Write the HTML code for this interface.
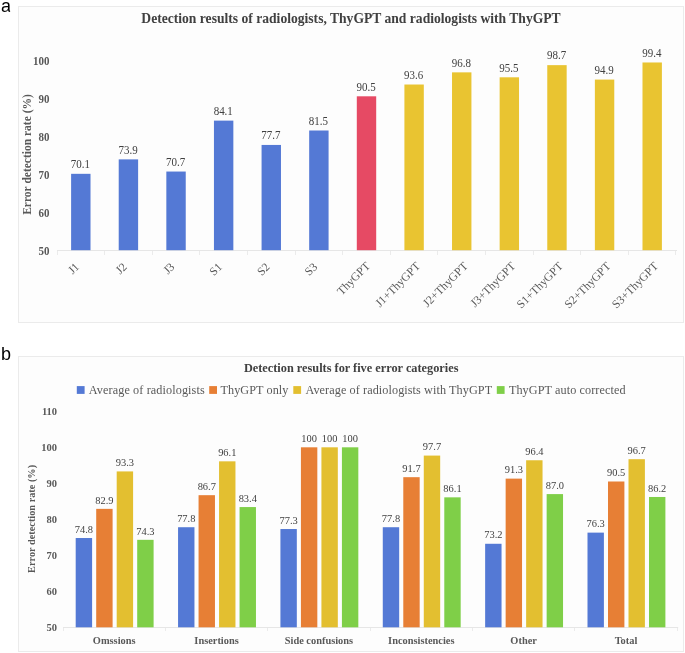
<!DOCTYPE html>
<html><head><meta charset="utf-8"><title>Detection results</title>
<style>
html,body{margin:0;padding:0;background:#fff;}
body{width:685px;height:653px;overflow:hidden;font-family:"Liberation Serif",serif;}
svg{display:block;will-change:transform;}
</style></head>
<body>
<svg width="685" height="653" viewBox="0 0 685 653">
<rect x="18.5" y="6.5" width="665" height="316" fill="#fdfdfd" stroke="#ebebeb" stroke-width="1"/>
<rect x="18.5" y="356.5" width="665" height="295" fill="#fdfdfd" stroke="#ebebeb" stroke-width="1"/>
<text x="1" y="11.9" font-family="Liberation Sans, sans-serif" font-size="18" fill="#000">a</text>
<rect x="10.1" y="8.5" width="3" height="4.5" fill="#fff"/>
<text x="1" y="360.1" font-family="Liberation Sans, sans-serif" font-size="18" fill="#000">b</text>
<text x="351" y="23.2" text-anchor="middle" font-family="Liberation Serif, serif" font-weight="bold" font-size="13.6" fill="#404040">Detection results of radiologists, ThyGPT and radiologists with ThyGPT</text>
<text transform="translate(49.5 254.6) scale(1 1.05)" text-anchor="end" font-family="Liberation Serif, serif" font-weight="bold" font-size="11" fill="#595959">50</text>
<text transform="translate(49.5 216.6) scale(1 1.05)" text-anchor="end" font-family="Liberation Serif, serif" font-weight="bold" font-size="11" fill="#595959">60</text>
<text transform="translate(49.5 178.6) scale(1 1.05)" text-anchor="end" font-family="Liberation Serif, serif" font-weight="bold" font-size="11" fill="#595959">70</text>
<text transform="translate(49.5 140.6) scale(1 1.05)" text-anchor="end" font-family="Liberation Serif, serif" font-weight="bold" font-size="11" fill="#595959">80</text>
<text transform="translate(49.5 102.6) scale(1 1.05)" text-anchor="end" font-family="Liberation Serif, serif" font-weight="bold" font-size="11" fill="#595959">90</text>
<text transform="translate(49.5 64.6) scale(1 1.05)" text-anchor="end" font-family="Liberation Serif, serif" font-weight="bold" font-size="11" fill="#595959">100</text>
<text transform="translate(31.0 154.5) rotate(-90)" text-anchor="middle" font-family="Liberation Serif, serif" font-weight="bold" font-size="11.5" fill="#595959">Error detection rate (%)</text>
<line x1="57" y1="250.5" x2="677" y2="250.5" stroke="#e6e6e6" stroke-width="1"/>
<line x1="57.5" y1="251" x2="57.5" y2="255" stroke="#ebebeb" stroke-width="1"/>
<line x1="104.5" y1="251" x2="104.5" y2="255" stroke="#ebebeb" stroke-width="1"/>
<line x1="152.5" y1="251" x2="152.5" y2="255" stroke="#ebebeb" stroke-width="1"/>
<line x1="199.5" y1="251" x2="199.5" y2="255" stroke="#ebebeb" stroke-width="1"/>
<line x1="247.5" y1="251" x2="247.5" y2="255" stroke="#ebebeb" stroke-width="1"/>
<line x1="295.5" y1="251" x2="295.5" y2="255" stroke="#ebebeb" stroke-width="1"/>
<line x1="342.5" y1="251" x2="342.5" y2="255" stroke="#ebebeb" stroke-width="1"/>
<line x1="390.5" y1="251" x2="390.5" y2="255" stroke="#ebebeb" stroke-width="1"/>
<line x1="437.5" y1="251" x2="437.5" y2="255" stroke="#ebebeb" stroke-width="1"/>
<line x1="485.5" y1="251" x2="485.5" y2="255" stroke="#ebebeb" stroke-width="1"/>
<line x1="533.5" y1="251" x2="533.5" y2="255" stroke="#ebebeb" stroke-width="1"/>
<line x1="580.5" y1="251" x2="580.5" y2="255" stroke="#ebebeb" stroke-width="1"/>
<line x1="628.5" y1="251" x2="628.5" y2="255" stroke="#ebebeb" stroke-width="1"/>
<line x1="675.5" y1="251" x2="675.5" y2="255" stroke="#ebebeb" stroke-width="1"/>
<rect x="71.11" y="173.82" width="19.4" height="76.38" fill="#5479d5"/>
<text transform="translate(80.41 168.12) scale(1 1.12)" text-anchor="middle" font-family="Liberation Serif, serif" font-size="11" fill="#404040">70.1</text>
<text transform="translate(80.01 267.5) rotate(-45)" text-anchor="end" font-family="Liberation Serif, serif" font-size="11.7" fill="#595959">J1</text>
<rect x="118.72" y="159.38" width="19.4" height="90.82" fill="#5479d5"/>
<text transform="translate(128.02 153.68) scale(1 1.12)" text-anchor="middle" font-family="Liberation Serif, serif" font-size="11" fill="#404040">73.9</text>
<text transform="translate(127.62 267.5) rotate(-45)" text-anchor="end" font-family="Liberation Serif, serif" font-size="11.7" fill="#595959">J2</text>
<rect x="166.34" y="171.54" width="19.4" height="78.66" fill="#5479d5"/>
<text transform="translate(175.64 165.84) scale(1 1.12)" text-anchor="middle" font-family="Liberation Serif, serif" font-size="11" fill="#404040">70.7</text>
<text transform="translate(175.24 267.5) rotate(-45)" text-anchor="end" font-family="Liberation Serif, serif" font-size="11.7" fill="#595959">J3</text>
<rect x="213.95" y="120.62" width="19.4" height="129.58" fill="#5479d5"/>
<text transform="translate(223.25 114.92) scale(1 1.12)" text-anchor="middle" font-family="Liberation Serif, serif" font-size="11" fill="#404040">84.1</text>
<text transform="translate(222.85 267.5) rotate(-45)" text-anchor="end" font-family="Liberation Serif, serif" font-size="11.7" fill="#595959">S1</text>
<rect x="261.57" y="144.94" width="19.4" height="105.26" fill="#5479d5"/>
<text transform="translate(270.87 139.24) scale(1 1.12)" text-anchor="middle" font-family="Liberation Serif, serif" font-size="11" fill="#404040">77.7</text>
<text transform="translate(270.47 267.5) rotate(-45)" text-anchor="end" font-family="Liberation Serif, serif" font-size="11.7" fill="#595959">S2</text>
<rect x="309.18" y="130.5" width="19.4" height="119.7" fill="#5479d5"/>
<text transform="translate(318.48 124.8) scale(1 1.12)" text-anchor="middle" font-family="Liberation Serif, serif" font-size="11" fill="#404040">81.5</text>
<text transform="translate(318.08 267.5) rotate(-45)" text-anchor="end" font-family="Liberation Serif, serif" font-size="11.7" fill="#595959">S3</text>
<rect x="356.8" y="96.3" width="19.4" height="153.9" fill="#e64a64"/>
<text transform="translate(366.1 90.6) scale(1 1.12)" text-anchor="middle" font-family="Liberation Serif, serif" font-size="11" fill="#404040">90.5</text>
<text transform="translate(370.7 266.7) rotate(-45)" text-anchor="end" font-family="Liberation Serif, serif" font-size="11.7" fill="#595959">ThyGPT</text>
<rect x="404.41" y="84.52" width="19.4" height="165.68" fill="#e9c431"/>
<text transform="translate(413.71 78.82) scale(1 1.12)" text-anchor="middle" font-family="Liberation Serif, serif" font-size="11" fill="#404040">93.6</text>
<text transform="translate(420.81 266.8) rotate(-45)" text-anchor="end" font-family="Liberation Serif, serif" font-size="11.7" fill="#595959">J1+ThyGPT</text>
<rect x="452.03" y="72.36" width="19.4" height="177.84" fill="#e9c431"/>
<text transform="translate(461.33 66.66) scale(1 1.12)" text-anchor="middle" font-family="Liberation Serif, serif" font-size="11" fill="#404040">96.8</text>
<text transform="translate(468.43 266.8) rotate(-45)" text-anchor="end" font-family="Liberation Serif, serif" font-size="11.7" fill="#595959">J2+ThyGPT</text>
<rect x="499.64" y="77.3" width="19.4" height="172.9" fill="#e9c431"/>
<text transform="translate(508.94 71.6) scale(1 1.12)" text-anchor="middle" font-family="Liberation Serif, serif" font-size="11" fill="#404040">95.5</text>
<text transform="translate(516.04 266.8) rotate(-45)" text-anchor="end" font-family="Liberation Serif, serif" font-size="11.7" fill="#595959">J3+ThyGPT</text>
<rect x="547.26" y="65.14" width="19.4" height="185.06" fill="#e9c431"/>
<text transform="translate(556.56 59.44) scale(1 1.12)" text-anchor="middle" font-family="Liberation Serif, serif" font-size="11" fill="#404040">98.7</text>
<text transform="translate(563.66 266.8) rotate(-45)" text-anchor="end" font-family="Liberation Serif, serif" font-size="11.7" fill="#595959">S1+ThyGPT</text>
<rect x="594.87" y="79.58" width="19.4" height="170.62" fill="#e9c431"/>
<text transform="translate(604.17 73.88) scale(1 1.12)" text-anchor="middle" font-family="Liberation Serif, serif" font-size="11" fill="#404040">94.9</text>
<text transform="translate(611.27 266.8) rotate(-45)" text-anchor="end" font-family="Liberation Serif, serif" font-size="11.7" fill="#595959">S2+ThyGPT</text>
<rect x="642.49" y="62.48" width="19.4" height="187.72" fill="#e9c431"/>
<text transform="translate(651.79 56.78) scale(1 1.12)" text-anchor="middle" font-family="Liberation Serif, serif" font-size="11" fill="#404040">99.4</text>
<text transform="translate(658.89 266.8) rotate(-45)" text-anchor="end" font-family="Liberation Serif, serif" font-size="11.7" fill="#595959">S3+ThyGPT</text>
<text x="351.2" y="371.7" text-anchor="middle" font-family="Liberation Serif, serif" font-weight="bold" font-size="12.3" fill="#404040">Detection results for five error categories</text>
<rect x="76.8" y="386.1" width="7.8" height="7.8" fill="#5479d5"/>
<text class="leg" x="88.8" y="394.2" textLength="115.9" lengthAdjust="spacing" font-family="Liberation Serif, serif" font-size="12.2" fill="#595959">Average of radiologists</text>
<rect x="209.2" y="386.1" width="7.8" height="7.8" fill="#e77f35"/>
<text class="leg" x="220.5" y="394.2" textLength="67.9" lengthAdjust="spacing" font-family="Liberation Serif, serif" font-size="12.2" fill="#595959">ThyGPT only</text>
<rect x="293.3" y="386.1" width="7.8" height="7.8" fill="#e3bf30"/>
<text class="leg" x="305.4" y="394.2" textLength="186.7" lengthAdjust="spacing" font-family="Liberation Serif, serif" font-size="12.2" fill="#595959">Average of radiologists with ThyGPT</text>
<rect x="496.8" y="386.1" width="7.8" height="7.8" fill="#7fcf48"/>
<text class="leg" x="508.9" y="394.2" textLength="116.7" lengthAdjust="spacing" font-family="Liberation Serif, serif" font-size="12.2" fill="#595959">ThyGPT auto corrected</text>
<text x="57.1" y="631.3" text-anchor="end" font-family="Liberation Serif, serif" font-weight="bold" font-size="10.5" fill="#595959">50</text>
<text x="57.1" y="595.3" text-anchor="end" font-family="Liberation Serif, serif" font-weight="bold" font-size="10.5" fill="#595959">60</text>
<text x="57.1" y="559.3" text-anchor="end" font-family="Liberation Serif, serif" font-weight="bold" font-size="10.5" fill="#595959">70</text>
<text x="57.1" y="523.3" text-anchor="end" font-family="Liberation Serif, serif" font-weight="bold" font-size="10.5" fill="#595959">80</text>
<text x="57.1" y="487.3" text-anchor="end" font-family="Liberation Serif, serif" font-weight="bold" font-size="10.5" fill="#595959">90</text>
<text x="57.1" y="451.3" text-anchor="end" font-family="Liberation Serif, serif" font-weight="bold" font-size="10.5" fill="#595959">100</text>
<text x="57.1" y="415.3" text-anchor="end" font-family="Liberation Serif, serif" font-weight="bold" font-size="10.5" fill="#595959">110</text>
<text transform="translate(34.7 518.9) rotate(-90)" text-anchor="middle" font-family="Liberation Serif, serif" font-weight="bold" font-size="10.3" fill="#595959">Error detection rate (%)</text>
<line x1="63" y1="627.5" x2="678.16" y2="627.5" stroke="#e6e6e6" stroke-width="1"/>
<line x1="63.5" y1="628" x2="63.5" y2="631" stroke="#ebebeb" stroke-width="1"/>
<line x1="165.5" y1="628" x2="165.5" y2="631" stroke="#ebebeb" stroke-width="1"/>
<line x1="267.5" y1="628" x2="267.5" y2="631" stroke="#ebebeb" stroke-width="1"/>
<line x1="370.5" y1="628" x2="370.5" y2="631" stroke="#ebebeb" stroke-width="1"/>
<line x1="472.5" y1="628" x2="472.5" y2="631" stroke="#ebebeb" stroke-width="1"/>
<line x1="574.5" y1="628" x2="574.5" y2="631" stroke="#ebebeb" stroke-width="1"/>
<line x1="677.5" y1="628" x2="677.5" y2="631" stroke="#ebebeb" stroke-width="1"/>
<rect x="75.7" y="538.02" width="16.4" height="89.28" fill="#5479d5"/>
<text transform="translate(83.9 532.72) scale(0.95 1.03)" text-anchor="middle" font-family="Liberation Serif, serif" font-size="11" fill="#404040">74.8</text>
<rect x="96.2" y="508.86" width="16.4" height="118.44" fill="#e77f35"/>
<text transform="translate(104.4 503.56) scale(0.95 1.03)" text-anchor="middle" font-family="Liberation Serif, serif" font-size="11" fill="#404040">82.9</text>
<rect x="116.7" y="471.42" width="16.4" height="155.88" fill="#e3bf30"/>
<text transform="translate(124.9 466.12) scale(0.95 1.03)" text-anchor="middle" font-family="Liberation Serif, serif" font-size="11" fill="#404040">93.3</text>
<rect x="137.2" y="539.82" width="16.4" height="87.48" fill="#7fcf48"/>
<text transform="translate(145.4 534.52) scale(0.95 1.03)" text-anchor="middle" font-family="Liberation Serif, serif" font-size="11" fill="#404040">74.3</text>
<text transform="translate(114.18 643.9) scale(0.945 1)" text-anchor="middle" font-family="Liberation Serif, serif" font-weight="bold" font-size="11" fill="#595959">Omssions</text>
<rect x="178.06" y="527.22" width="16.4" height="100.08" fill="#5479d5"/>
<text transform="translate(186.26 521.92) scale(0.95 1.03)" text-anchor="middle" font-family="Liberation Serif, serif" font-size="11" fill="#404040">77.8</text>
<rect x="198.56" y="495.18" width="16.4" height="132.12" fill="#e77f35"/>
<text transform="translate(206.76 489.88) scale(0.95 1.03)" text-anchor="middle" font-family="Liberation Serif, serif" font-size="11" fill="#404040">86.7</text>
<rect x="219.06" y="461.34" width="16.4" height="165.96" fill="#e3bf30"/>
<text transform="translate(227.26 456.04) scale(0.95 1.03)" text-anchor="middle" font-family="Liberation Serif, serif" font-size="11" fill="#404040">96.1</text>
<rect x="239.56" y="507.06" width="16.4" height="120.24" fill="#7fcf48"/>
<text transform="translate(247.76 501.76) scale(0.95 1.03)" text-anchor="middle" font-family="Liberation Serif, serif" font-size="11" fill="#404040">83.4</text>
<text transform="translate(216.54 643.9) scale(0.945 1)" text-anchor="middle" font-family="Liberation Serif, serif" font-weight="bold" font-size="11" fill="#595959">Insertions</text>
<rect x="280.42" y="529.02" width="16.4" height="98.28" fill="#5479d5"/>
<text transform="translate(288.62 523.72) scale(0.95 1.03)" text-anchor="middle" font-family="Liberation Serif, serif" font-size="11" fill="#404040">77.3</text>
<rect x="300.92" y="447.3" width="16.4" height="180" fill="#e77f35"/>
<text transform="translate(309.12 442) scale(0.95 1.03)" text-anchor="middle" font-family="Liberation Serif, serif" font-size="11" fill="#404040">100</text>
<rect x="321.42" y="447.3" width="16.4" height="180" fill="#e3bf30"/>
<text transform="translate(329.62 442) scale(0.95 1.03)" text-anchor="middle" font-family="Liberation Serif, serif" font-size="11" fill="#404040">100</text>
<rect x="341.92" y="447.3" width="16.4" height="180" fill="#7fcf48"/>
<text transform="translate(350.12 442) scale(0.95 1.03)" text-anchor="middle" font-family="Liberation Serif, serif" font-size="11" fill="#404040">100</text>
<text transform="translate(318.9 643.9) scale(0.945 1)" text-anchor="middle" font-family="Liberation Serif, serif" font-weight="bold" font-size="11" fill="#595959">Side confusions</text>
<rect x="382.78" y="527.22" width="16.4" height="100.08" fill="#5479d5"/>
<text transform="translate(390.98 521.92) scale(0.95 1.03)" text-anchor="middle" font-family="Liberation Serif, serif" font-size="11" fill="#404040">77.8</text>
<rect x="403.28" y="477.18" width="16.4" height="150.12" fill="#e77f35"/>
<text transform="translate(411.48 471.88) scale(0.95 1.03)" text-anchor="middle" font-family="Liberation Serif, serif" font-size="11" fill="#404040">91.7</text>
<rect x="423.78" y="455.58" width="16.4" height="171.72" fill="#e3bf30"/>
<text transform="translate(431.98 450.28) scale(0.95 1.03)" text-anchor="middle" font-family="Liberation Serif, serif" font-size="11" fill="#404040">97.7</text>
<rect x="444.28" y="497.34" width="16.4" height="129.96" fill="#7fcf48"/>
<text transform="translate(452.48 492.04) scale(0.95 1.03)" text-anchor="middle" font-family="Liberation Serif, serif" font-size="11" fill="#404040">86.1</text>
<text transform="translate(421.26 643.9) scale(0.945 1)" text-anchor="middle" font-family="Liberation Serif, serif" font-weight="bold" font-size="11" fill="#595959">Inconsistencies</text>
<rect x="485.14" y="543.78" width="16.4" height="83.52" fill="#5479d5"/>
<text transform="translate(493.34 538.48) scale(0.95 1.03)" text-anchor="middle" font-family="Liberation Serif, serif" font-size="11" fill="#404040">73.2</text>
<rect x="505.64" y="478.62" width="16.4" height="148.68" fill="#e77f35"/>
<text transform="translate(513.84 473.32) scale(0.95 1.03)" text-anchor="middle" font-family="Liberation Serif, serif" font-size="11" fill="#404040">91.3</text>
<rect x="526.14" y="460.26" width="16.4" height="167.04" fill="#e3bf30"/>
<text transform="translate(534.34 454.96) scale(0.95 1.03)" text-anchor="middle" font-family="Liberation Serif, serif" font-size="11" fill="#404040">96.4</text>
<rect x="546.64" y="494.1" width="16.4" height="133.2" fill="#7fcf48"/>
<text transform="translate(554.84 488.8) scale(0.95 1.03)" text-anchor="middle" font-family="Liberation Serif, serif" font-size="11" fill="#404040">87.0</text>
<text transform="translate(523.62 643.9) scale(0.945 1)" text-anchor="middle" font-family="Liberation Serif, serif" font-weight="bold" font-size="11" fill="#595959">Other</text>
<rect x="587.5" y="532.62" width="16.4" height="94.68" fill="#5479d5"/>
<text transform="translate(595.7 527.32) scale(0.95 1.03)" text-anchor="middle" font-family="Liberation Serif, serif" font-size="11" fill="#404040">76.3</text>
<rect x="608" y="481.5" width="16.4" height="145.8" fill="#e77f35"/>
<text transform="translate(616.2 476.2) scale(0.95 1.03)" text-anchor="middle" font-family="Liberation Serif, serif" font-size="11" fill="#404040">90.5</text>
<rect x="628.5" y="459.18" width="16.4" height="168.12" fill="#e3bf30"/>
<text transform="translate(636.7 453.88) scale(0.95 1.03)" text-anchor="middle" font-family="Liberation Serif, serif" font-size="11" fill="#404040">96.7</text>
<rect x="649" y="496.98" width="16.4" height="130.32" fill="#7fcf48"/>
<text transform="translate(657.2 491.68) scale(0.95 1.03)" text-anchor="middle" font-family="Liberation Serif, serif" font-size="11" fill="#404040">86.2</text>
<text transform="translate(625.98 643.9) scale(0.945 1)" text-anchor="middle" font-family="Liberation Serif, serif" font-weight="bold" font-size="11" fill="#595959">Total</text>
</svg>
</body></html>
